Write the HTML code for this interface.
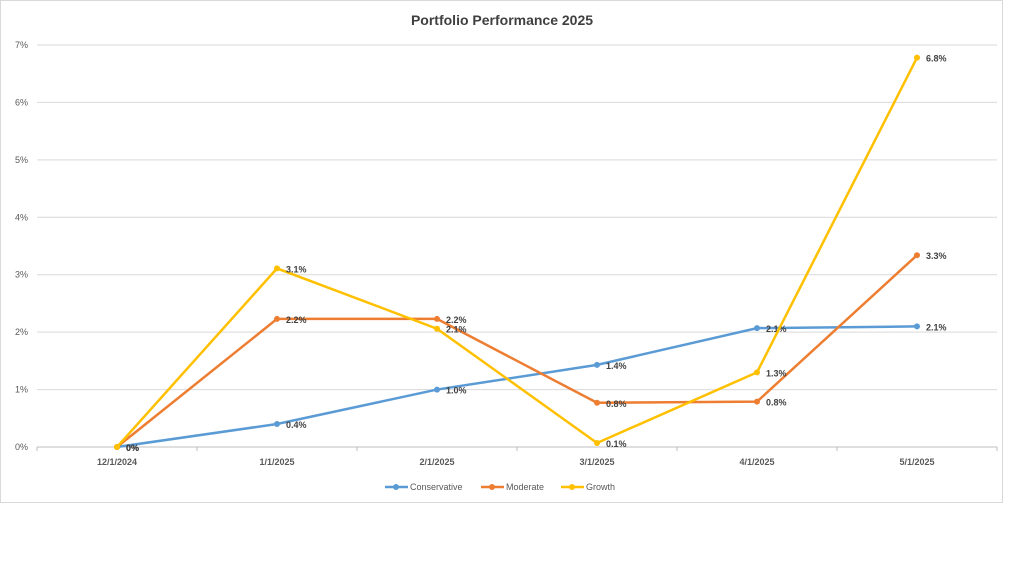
<!DOCTYPE html>
<html><head><meta charset="utf-8"><style>
body{margin:0;background:#fff;width:1024px;height:576px;overflow:hidden;font-family:"Liberation Sans",sans-serif}
</style></head><body>
<svg width="1024" height="576">
<rect x="0.5" y="0.5" width="1002" height="502" fill="#fff" stroke="#d9d9d9"/>
<text x="502" y="25" text-anchor="middle" font-size="14" font-weight="bold" fill="#404040">Portfolio Performance 2025</text>
<g id="grid"></g><g id="xaxis"></g><g id="series"></g>
<g font-size="9" fill="#595959">
<g><line x1="385" y1="487" x2="408" y2="487" stroke="#5b9bd5" stroke-width="2.5"/><circle cx="396" cy="487" r="3" fill="#5b9bd5"/><text x="410" y="490">Conservative</text></g>
<g><line x1="481" y1="487" x2="504" y2="487" stroke="#ed7d31" stroke-width="2.5"/><circle cx="492" cy="487" r="3" fill="#ed7d31"/><text x="506" y="490">Moderate</text></g>
<g><line x1="561" y1="487" x2="584" y2="487" stroke="#ffc000" stroke-width="2.5"/><circle cx="572" cy="487" r="3" fill="#ffc000"/><text x="586" y="490">Growth</text></g>
</g>
</svg>
<script>
const categories=["12/1/2024","1/1/2025","2/1/2025","3/1/2025","4/1/2025","5/1/2025"];
const conservative=[0,0.4,1.0,1.43,2.07,2.1];
const moderate=[0,2.23,2.23,0.77,0.79,3.34];
const growth=[0,3.11,2.06,0.07,1.3,6.78];
const conservativeLabels=["0%","0.4%","1.0%","1.4%","2.1%","2.1%"];
const moderateLabels=["0%","2.2%","2.2%","0.8%","0.8%","3.3%"];
const growthLabels=["0%","3.1%","2.1%","0.1%","1.3%","6.8%"];
const yTicks=[0,1,2,3,4,5,6,7];
const NS="http://www.w3.org/2000/svg";
const x0=37,x1=997,yb=447,yt=45,ymax=7;
const xs=i=>x0+(i+0.5)*(x1-x0)/categories.length;
const ys=v=>yb-v/ymax*(yb-yt);
function mk(t,a,p){const e=document.createElementNS(NS,t);for(const k in a)e.setAttribute(k,a[k]);p.appendChild(e);return e;}
const grid=document.getElementById('grid');
yTicks.forEach(v=>{
 const l=mk('line',{x1:x0,x2:x1,y1:ys(v),y2:ys(v),stroke:v===0?'#bfbfbf':'#d9d9d9','stroke-width':1},grid);
 
 
 const t=mk('text',{x:28,y:ys(v)+3,'text-anchor':'end','font-size':9,fill:'#595959'},grid);
 t.textContent=v+'%';
 
 
});
const xa=document.getElementById('xaxis');
for(let i=0;i<=categories.length;i++){const x=x0+i*(x1-x0)/categories.length;mk('line',{x1:x,x2:x,y1:yb,y2:yb+4,stroke:'#bfbfbf'},xa);}
categories.forEach((c,i)=>{
 const t=mk('text',{x:xs(i),y:465,'text-anchor':'middle','font-size':9,'font-weight':'bold',fill:'#595959'},xa);
 t.textContent=c;
 
 
});
const sg=document.getElementById('series');
[[conservative,conservativeLabels,'#5b9bd5','conservative'],[moderate,moderateLabels,'#ed7d31','moderate'],[growth,growthLabels,'#ffc000','growth']].forEach(([d,lb,col,nm])=>{
 const p=mk('polyline',{points:d.map((v,i)=>xs(i)+','+ys(v)).join(' '),fill:'none',stroke:col,'stroke-width':2.5},sg);
 
 
 d.forEach((v,i)=>{
  const c=mk('circle',{cx:xs(i),cy:ys(v),r:3,fill:col},sg);
  
  
  const t=mk('text',{x:xs(i)+9,y:ys(v)+4,'font-size':9,'font-weight':'bold',fill:'#404040'},sg);
  t.textContent=lb[i];
  
  
 });
});
</script>
</body></html>
